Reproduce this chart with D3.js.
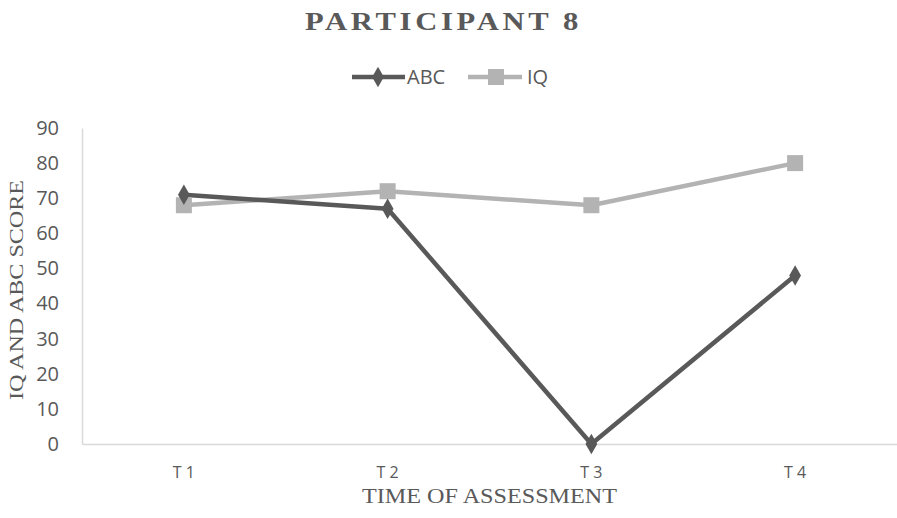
<!DOCTYPE html>
<html><head><meta charset="utf-8">
<script src="https://cdn.jsdelivr.net/npm/d3@7"></script>
<style>body{margin:0;background:#fff}svg{display:block}</style>
</head><body><svg id="c" width="897" height="518"></svg>
<script>
const categories = ["T 1", "T 2", "T 3", "T 4"];
const abcValues = [71, 67, 0, 48];
const iqValues = [68, 72, 68, 80];
const yTicks = [0, 10, 20, 30, 40, 50, 60, 70, 80, 90];

const svg = d3.select("#c");
const W = 897, H = 518;
const m = {left: 82, right: 0, top: 128, bottom: 74};
const x = d3.scaleBand().domain(categories).range([m.left, W - m.right]);
const y = d3.scaleLinear().domain([0, 90]).range([H - m.bottom, m.top]);
const cx = d => x(d) + x.bandwidth() / 2;
const sans = "'Open Sans', sans-serif";
const serif = "'Liberation Serif', 'Times New Roman', serif";

// axes
const yAx = svg.append("g").attr("transform", `translate(${m.left},0)`)
  .call(d3.axisLeft(y).tickValues(yTicks).tickSize(0).tickPadding(23));
yAx.select(".domain").attr("stroke", "#d9d9d9").attr("stroke-width", 1.5);
yAx.attr("font-family", sans).attr("font-size", 20);
yAx.selectAll("text").attr("fill", "#595959");

const xAx = svg.append("g").attr("transform", `translate(0,${y(0)})`)
  .call(d3.axisBottom(x).tickSize(0).tickPadding(22));
xAx.select(".domain").attr("stroke", "#d9d9d9").attr("stroke-width", 1.5);
xAx.attr("font-family", sans).attr("font-size", 16);
xAx.selectAll("text").attr("fill", "#595959").attr("dy", 0).attr("y", 34);

// lines
const line = vals => d3.line().x((d, i) => cx(categories[i])).y(d => y(d))(vals);
svg.append("path").attr("d", line(iqValues)).attr("fill", "none").attr("stroke", "#b3b3b3").attr("stroke-width", 4.5).attr("stroke-linejoin", "round");
svg.append("path").attr("d", line(abcValues)).attr("fill", "none").attr("stroke", "#595959").attr("stroke-width", 4.5).attr("stroke-linejoin", "round");

const sq = d3.symbol().type(d3.symbolSquare).size(256);
const dm = d3.symbol().type(d3.symbolDiamond).size(120);
svg.append("g").selectAll("path").data(iqValues).join("path")
  .attr("d", sq).attr("fill", "#b3b3b3")
  .attr("transform", (d, i) => `translate(${cx(categories[i])},${y(d)})`);
svg.append("g").selectAll("path").data(abcValues).join("path")
  .attr("d", dm).attr("fill", "#595959")
  .attr("transform", (d, i) => `translate(${cx(categories[i])},${y(d)})`);

// title
svg.append("text").attr("x", 305).attr("y", 30)
  .attr("textLength", 277).attr("lengthAdjust", "spacingAndGlyphs")
  .attr("fill", "#595959").style("font-family", serif)
  .style("font-size", "25px").style("font-weight", "bold").style("letter-spacing", "3px")
  .text("PARTICIPANT 8");

// legend
const lg = svg.append("g");
lg.append("line").attr("x1", 352).attr("x2", 405).attr("y1", 77).attr("y2", 77).attr("stroke", "#595959").attr("stroke-width", 4.5);
lg.append("path").attr("d", dm).attr("fill", "#595959").attr("transform", "translate(378,77)");
lg.append("text").attr("x", 407).attr("y", 83.5).attr("fill", "#595959").style("font-family", sans).style("font-size", "20px").text("ABC");
lg.append("line").attr("x1", 468).attr("x2", 522).attr("y1", 77).attr("y2", 77).attr("stroke", "#b3b3b3").attr("stroke-width", 4.5);
lg.append("path").attr("d", sq).attr("fill", "#b3b3b3").attr("transform", "translate(496,77)");
lg.append("text").attr("x", 527).attr("y", 83.5).attr("fill", "#595959").style("font-family", sans).style("font-size", "20px").text("IQ");

// axis titles
svg.append("text").attr("transform", `translate(23,290) rotate(-90)`)
  .attr("x", -110).attr("textLength", 220).attr("lengthAdjust", "spacingAndGlyphs")
  .attr("fill", "#595959")
  .style("font-family", serif).style("font-size", "19px")
  .text("IQ AND ABC SCORE");
svg.append("text").attr("x", 362).attr("y", 503)
  .attr("textLength", 255).attr("lengthAdjust", "spacingAndGlyphs").attr("fill", "#595959")
  .style("font-family", serif).style("font-size", "21px")
  .text("TIME OF ASSESSMENT");
</script></body></html>
